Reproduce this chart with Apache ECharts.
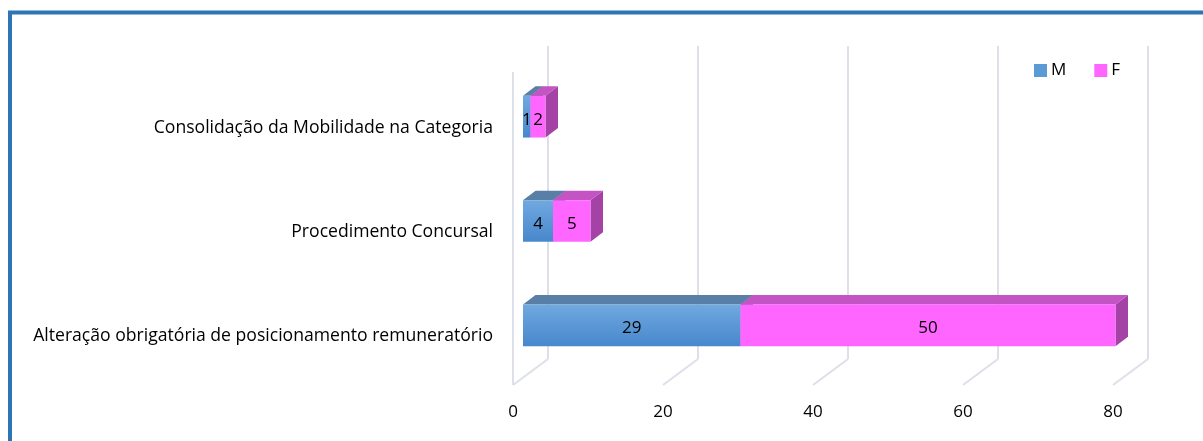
<!DOCTYPE html>
<html>
<head>
<meta charset="utf-8">
<script src="https://cdn.jsdelivr.net/npm/echarts@6/dist/echarts.min.js"></script>
<style>
  html, body { margin: 0; padding: 0; background: #fff; }
  #chart { width: 1203px; height: 441px; }
</style>
</head>
<body>
<div id="chart"></div>
<script>
// Categories, top to bottom
const categories = [
  'Consolidação da Mobilidade na Categoria',
  'Procedimento Concursal',
  'Alteração obrigatória de posicionamento remuneratório'
];
const seriesNames = ['M', 'F'];
const valuesM = [1, 4, 29];
const valuesF = [2, 5, 50];
const xTicks = [0, 20, 40, 60, 80];

// 3D projection offsets (pixels): back wall relative to front plane,
// bar front face relative to front plane, and bar depth.
const DX = 35, DY = -26;
const FX = 10, FY = -7.5;
const BDX = 12.5, BDY = -9.5;

const FONT = 'Open Sans';
const FS = 17;
const FS_CAT = 17.6;

const faces = {
  M: {
    front: new echarts.graphic.LinearGradient(0, 0, 0, 1, [
      { offset: 0, color: '#71a9e0' },
      { offset: 1, color: '#4787cc' }
    ]),
    top: '#5a7fa6',
    side: '#456c98'
  },
  F: { front: '#ff66ff', top: '#c453c4', side: '#a542a6' }
};

// stacked segments: [categoryIndex, start, end, value]
function segments(vals, base) {
  return vals.map((v, i) => [i, base ? base[i] : 0, (base ? base[i] : 0) + v, v]);
}
const segM = segments(valuesM, null);
const segF = segments(valuesF, valuesM);

function barRenderer(name) {
  const st = faces[name];
  return function (params, api) {
    const cat = api.value(0);
    const p0 = api.coord([api.value(1), cat]);
    const p1 = api.coord([api.value(2), cat]);
    const h = api.size([0, 1])[1] * 0.4;
    const x0 = p0[0] + FX, x1 = p1[0] + FX;
    const yT = p0[1] + FY - h / 2, yB = p0[1] + FY + h / 2;
    return {
      type: 'group',
      children: [
        {
          type: 'polygon',
          shape: { points: [[x1, yT], [x1 + BDX, yT + BDY], [x1 + BDX, yB + BDY], [x1, yB]] },
          style: { fill: st.side }
        },
        {
          type: 'polygon',
          shape: { points: [[x0, yT], [x1, yT], [x1 + BDX, yT + BDY], [x0 + BDX, yT + BDY]] },
          style: { fill: st.top }
        },
        {
          type: 'rect',
          shape: { x: x0, y: yT, width: x1 - x0, height: yB - yT },
          style: { fill: st.front }
        },
        {
          type: 'text',
          style: {
            text: String(api.value(3)),
            x: (x0 + x1) / 2, y: (yT + yB) / 2 + 3,
            align: 'center', verticalAlign: 'middle',
            fill: '#000', font: FS + 'px "' + FONT + '"'
          },
          z2: 10
        }
      ]
    };
  };
}

// floor lines from front plane to back wall, plus the side wall edge at 0
function floorRenderer(params, api) {
  const v = api.value(0);
  const cs = params.coordSys;
  const x = api.coord([v, 0])[0];
  const yb = cs.y + cs.height;
  const children = [{
    type: 'line',
    shape: { x1: x, y1: yb, x2: x + DX, y2: yb + DY },
    style: { stroke: '#dde0e8', lineWidth: 2 }
  }];
  if (v === 0) {
    children.push({
      type: 'line',
      shape: { x1: x, y1: cs.y, x2: x, y2: yb },
      style: { stroke: '#dde0e8', lineWidth: 2 }
    });
  }
  return { type: 'group', children };
}

const chart = echarts.init(document.getElementById('chart'), null, { renderer: 'canvas' });
chart.setOption({
  animation: false,
  backgroundColor: '#fff',
  textStyle: { fontFamily: FONT },
  graphic: [{
    type: 'rect',
    shape: { x: 10, y: 12.5, width: 1400, height: 600 },
    style: { fill: 'none', stroke: '#2e75b6', lineWidth: 4 },
    z: 100
  }],
  legend: {
    data: seriesNames,
    left: 1029, top: 57,
    itemWidth: 13, itemHeight: 13, itemGap: 28,
    icon: 'rect',
    textStyle: { fontFamily: FONT, fontSize: FS, color: '#000', padding: [0, 0, 0, -1] }
  },
  grid: [
    { left: 513, top: 72, width: 600, height: 313 },
    { left: 513 + DX, top: 72 + DY, width: 600, height: 313 }
  ],
  xAxis: [
    {
      gridIndex: 0, type: 'value', min: 0, max: 80, interval: 20,
      axisLine: { show: false }, axisTick: { show: false }, splitLine: { show: false },
      axisLabel: {
        margin: 19, color: '#000', fontSize: FS, fontFamily: FONT,
        customValues: xTicks
      }
    },
    {
      gridIndex: 1, type: 'value', min: 0, max: 80, interval: 20,
      axisLine: { show: false }, axisTick: { show: false }, axisLabel: { show: false },
      splitLine: { show: true, lineStyle: { color: '#dde0e8', width: 2 } }
    }
  ],
  yAxis: [
    {
      gridIndex: 0, type: 'category', data: categories, inverse: true,
      axisLine: { show: false }, axisTick: { show: false },
      axisLabel: {
        margin: 20, color: '#000', fontSize: FS_CAT, fontFamily: FONT,
        formatter: v => '{c|' + v + '}',
        rich: { c: { fontSize: FS_CAT, fontFamily: FONT, color: '#000', padding: [7, 0, 0, 0] } }
      }
    },
    {
      gridIndex: 1, type: 'category', data: categories, inverse: true, show: false
    }
  ],
  series: [
    {
      name: 'floor', type: 'custom', xAxisIndex: 0, yAxisIndex: 0,
      data: xTicks.map(v => [v]), renderItem: floorRenderer, silent: true, z: 1,
      legendHoverLink: false
    },
    {
      name: 'M', type: 'custom', xAxisIndex: 0, yAxisIndex: 0,
      data: segM, renderItem: barRenderer('M'), z: 3,
      itemStyle: { color: '#5b9bd5' }, encode: { x: [1, 2], y: 0 }
    },
    {
      name: 'F', type: 'custom', xAxisIndex: 0, yAxisIndex: 0,
      data: segF, renderItem: barRenderer('F'), z: 4,
      itemStyle: { color: '#ff66ff' }, encode: { x: [1, 2], y: 0 }
    }
  ]
});
</script>
</body>
</html>
